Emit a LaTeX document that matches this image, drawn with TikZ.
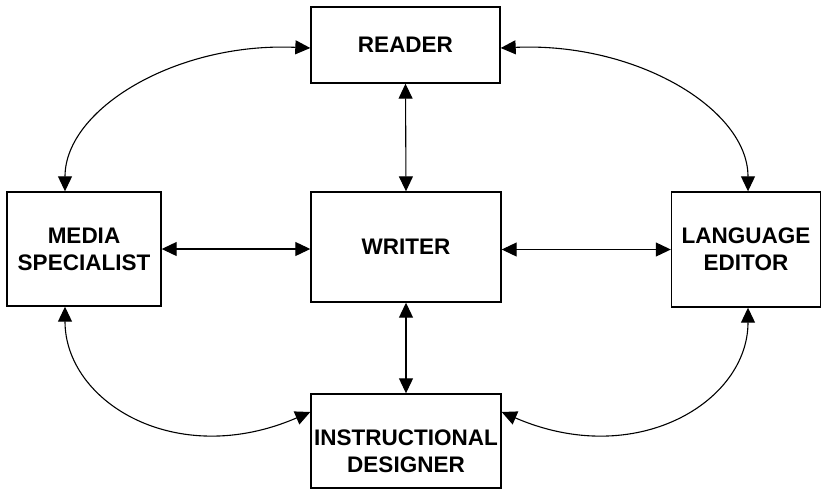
\documentclass[tikz,border=0pt]{standalone}
\usepackage{fontspec}
\setmainfont{Liberation Sans}
\usetikzlibrary{arrows.meta}
\begin{document}
\begin{tikzpicture}[x=1pt,y=-1pt,
  box/.style={draw, line width=1.4pt, rectangle, inner sep=0pt, align=center,
    font=\fontsize{22.5}{27}\selectfont\bfseries},
  lbl/.style={inner sep=0pt, align=center, font=\fontsize{22.5}{27}\selectfont\bfseries},
  link/.style={line width=1.1pt, {Triangle[length=15pt,width=14pt]}-{Triangle[length=15pt,width=14pt]}}]
\useasboundingbox (0,0) rectangle (822,491);
\node[box, minimum width=189pt, minimum height=76pt] (reader) at (405.5,45) {READER};
\node[box, minimum width=154pt, minimum height=114pt] (media) at (84,249) {MEDIA\\SPECIALIST};
\node[box, minimum width=190pt, minimum height=110pt] (writer) at (406,247) {WRITER};
\node[box, minimum width=149pt, minimum height=115pt] (lang) at (746,249.5) {LANGUAGE\\EDITOR};
\node[box, minimum width=190pt, minimum height=94pt] (id) at (406,441) {};
\node[lbl] (idtext) at (406,451) {INSTRUCTIONAL\\DESIGNER};
% straight links
\draw[link] (reader.south) -- (writer.north);
\draw[link] (writer.south) -- (id.north);
\draw[link] (media.east) -- (writer.west |- media.east);
\draw[link] (writer.east |- lang.west) -- (lang.west);
% curved links
\coordinate (rw) at ([yshift=-3pt]reader.west);
\coordinate (re) at ([yshift=-3pt]reader.east);
\coordinate (mt) at ([xshift=-19pt]media.north);
\coordinate (mb) at ([xshift=-19pt]media.south);
\coordinate (lt) at ([xshift=2pt]lang.north);
\coordinate (lb) at ([xshift=2pt]lang.south);
\coordinate (iw) at ([yshift=29pt]id.west);
\coordinate (ie) at ([yshift=29pt]id.east);
\draw[link] (rw) .. controls (176,42) and (65,109) .. (mt);
\draw[link] (re) .. controls (636,42) and (748,109) .. (lt);
\draw[link] (mb) .. controls (65,402) and (176,470) .. (iw);
\draw[link] (lb) .. controls (748,402) and (636,470) .. (ie);
\end{tikzpicture}
\end{document}
